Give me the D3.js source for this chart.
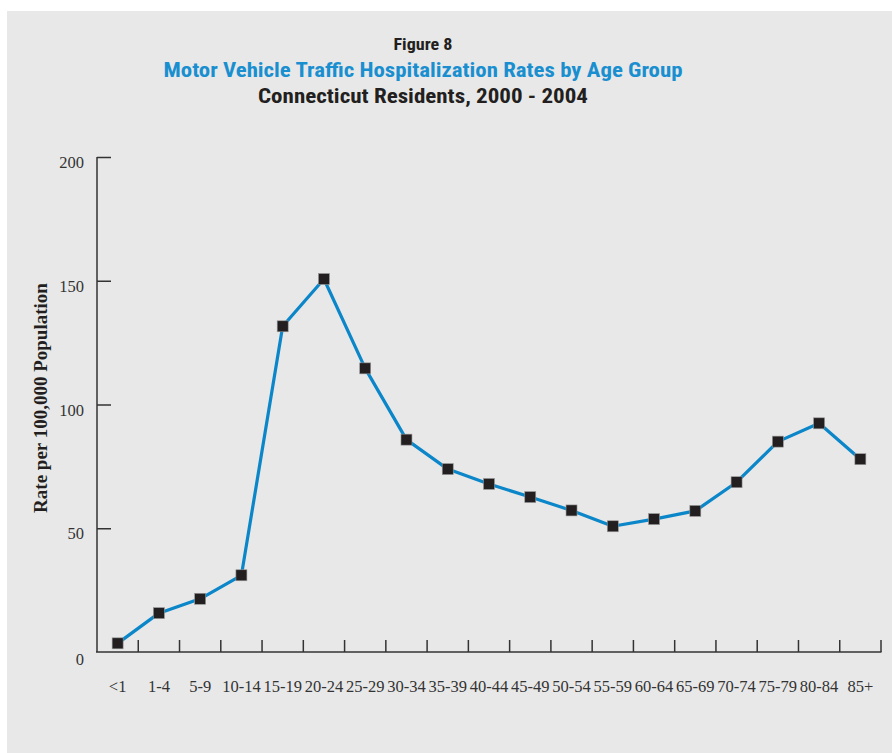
<!DOCTYPE html>
<html><head><meta charset="utf-8">
<script src="https://cdn.jsdelivr.net/npm/d3@7"></script>
<style>body{margin:0;background:#fff}svg{display:block}</style>
</head><body><svg id="c" width="892" height="753"></svg>
<script>
const categories = ["<1","1-4","5-9","10-14","15-19","20-24","25-29","30-34","35-39","40-44","45-49","50-54","55-59","60-64","65-69","70-74","75-79","80-84","85+"];
const rates = [3.5,15.7,21.5,31,131.6,150.7,114.6,85.8,73.9,67.9,62.6,57.2,50.8,53.7,57,68.6,85,92.4,77.9];
const yTicks = [0,50,100,150,200];
const titles = ["Figure 8","Motor Vehicle Traffic Hospitalization Rates by Age Group","Connecticut Residents, 2000 - 2004"];
const yLabel = "Rate per 100,000 Population";

const svg = d3.select("#c");
svg.append("rect").attr("x",7).attr("y",11).attr("width",885).attr("height",742).attr("fill","#e8e8e8");

const x = d3.scaleBand().domain(categories).range([97,881]).padding(0);
const y = d3.scaleLinear().domain([0,200]).range([652,157]);

const sans = "'Liberation Sans Narrow','Roboto Condensed','Open Sans',sans-serif";
const serif = "'Liberation Serif','DejaVu Serif',serif";
const cx = 423;
svg.append("text").attr("x",cx).attr("y",50).attr("text-anchor","middle")
  .attr("textLength",59).attr("lengthAdjust","spacingAndGlyphs")
  .style("font-family",sans).style("font-weight","bold").style("font-size","16px").attr("fill","#231f20").text(titles[0]);
svg.append("text").attr("x",cx).attr("y",77).attr("text-anchor","middle")
  .attr("textLength",519).attr("lengthAdjust","spacingAndGlyphs")
  .style("font-family",sans).style("font-weight","bold").style("font-size","21px").attr("fill","#1a8fd0").text(titles[1]);
svg.append("text").attr("x",cx).attr("y",103).attr("text-anchor","middle")
  .attr("textLength",330).attr("lengthAdjust","spacingAndGlyphs")
  .style("font-family",sans).style("font-weight","bold").style("font-size","21px").attr("fill","#231f20").text(titles[2]);

// y axis
const yAxis = svg.append("g").attr("transform","translate(97,0)")
  .call(d3.axisRight(y).tickValues(yTicks).tickSize(14).tickFormat(""));
yAxis.select(".domain").attr("d","M0,"+y(200)+"V"+y(0)).attr("stroke","#333").attr("stroke-width",1.5);
yAxis.selectAll(".tick line").attr("stroke","#333").attr("stroke-width",1.5);
yAxis.selectAll(".tick").filter(d=>d===0).select("line").remove();
svg.append("g").selectAll("text").data(yTicks).join("text")
  .attr("x",84).attr("y",d=>y(d)+ (d===0?13:11)).attr("text-anchor","end")
  .style("font-family",serif).style("font-size","16.5px").attr("fill","#333").text(d=>d);

// x axis
const xAxis = svg.append("g").attr("transform","translate(0,652)")
  .call(d3.axisTop(x).tickSize(0).tickFormat(""));
xAxis.select(".domain").attr("d","M96,0H881.5").attr("stroke","#333").attr("stroke-width",1.5);
svg.append("g").selectAll("line").data(categories).join("line")
  .attr("x1",d=>x(d)+x.bandwidth()).attr("x2",d=>x(d)+x.bandwidth())
  .attr("y1",640).attr("y2",652).attr("stroke","#333").attr("stroke-width",1.5);
svg.append("g").selectAll("text").data(categories).join("text")
  .attr("x",d=>x(d)+x.bandwidth()/2).attr("y",692).attr("text-anchor","middle")
  .style("font-family",serif).style("font-size","16.5px").attr("fill","#333").text(d=>d);

svg.append("text").attr("transform","translate(47,398) rotate(-90)").attr("text-anchor","middle")
  .style("font-family",serif).style("font-weight","bold").style("font-size","19px").attr("fill","#231f20").text(yLabel);

const line = d3.line().x((d,i)=>x(categories[i])+x.bandwidth()/2).y(d=>y(d));
svg.append("path").datum(rates).attr("d",line).attr("fill","none").attr("stroke","#0a86c9").attr("stroke-width",3.2).attr("stroke-linejoin","round");
svg.append("g").selectAll("rect").data(rates).join("rect")
  .attr("x",(d,i)=>x(categories[i])+x.bandwidth()/2-5.5).attr("y",d=>y(d)-5.5)
  .attr("width",11).attr("height",11).attr("fill","#231f20").attr("stroke","#9a9a9a").attr("stroke-width",0.6);
</script></body></html>
